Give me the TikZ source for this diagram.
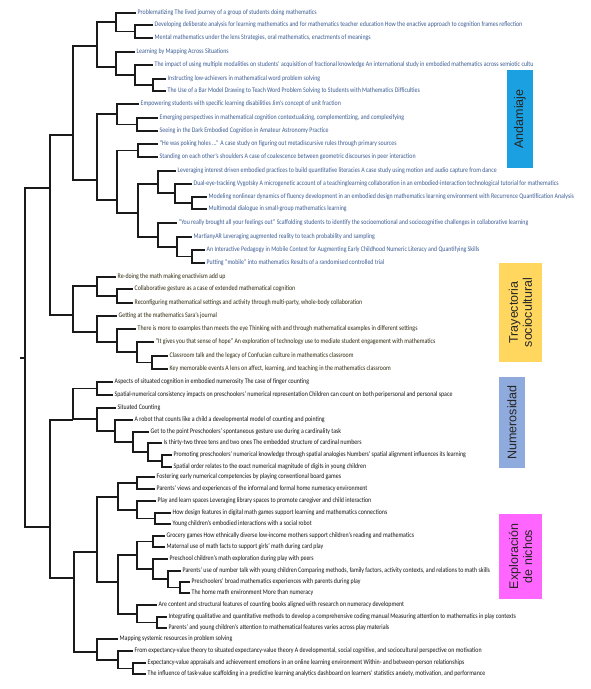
\documentclass[tikz,border=0pt]{standalone}
\usepackage{fontspec}
\setmainfont{Carlito}[FakeStretch=0.84]
\newfontfamily\boxfont{Liberation Sans}
\definecolor{andtext}{HTML}{3D5D94}
\definecolor{tratext}{HTML}{2F2A10}
\definecolor{blktext}{HTML}{151515}
\definecolor{linecol}{HTML}{1A1A1A}
\definecolor{andbox}{HTML}{1BA1E2}
\definecolor{trabox}{HTML}{FFD75E}
\definecolor{numbox}{HTML}{8FAADC}
\definecolor{expbox}{HTML}{FF66FF}
\tikzset{
  lfbase/.style={anchor=west, inner xsep=1.5pt, inner ysep=0pt, font=\fontsize{7}{8}\selectfont},
  lfA/.style={lfbase, text=andtext},
  lfT/.style={lfbase, text=tratext},
  lfN/.style={lfbase, text=blktext},
  dendro/.style={line width=1.1pt, draw=linecol},
  catbox/.style={draw=none, inner sep=0pt, align=center, text=black!85, font=\boxfont\fontsize{12.5}{14}\selectfont, rotate=90}
}
\begin{document}
\begin{tikzpicture}[x=1pt,y=-1pt]
\useasboundingbox (0,0) rectangle (590,689);
\fill[white] (0,0) rectangle (590,689);

% ---------- category boxes ----------
\fill[andbox] (507,70) rectangle (533,168);
\node[catbox] (cA) at (520,119) {Andamiaje};
\fill[trabox] (499,263) rectangle (542,362);
\node[catbox] (cT) at (520.5,312.5) {Trayectoria\\sociocultural};
\fill[numbox] (499,377) rectangle (525,468);
\node[catbox] (cN) at (512,422.5) {Numerosidad};
\fill[expbox] (499,514) rectangle (542,599);
\node[catbox] (cE) at (520.5,556.5) {Exploración\\de nichos};

% ---------- leaves: Andamiaje ----------
\node[lfA] (l1) at (136,13) {Problematizing The lived journey of a group of students doing mathematics};
\node[lfA] (l2) at (153,25) {Developing deliberate analysis for learning mathematics and for mathematics teacher education How the enactive approach to cognition frames reflection};
\node[lfA] (l3) at (153,38) {Mental mathematics under the lens Strategies, oral mathematics, enactments of meanings};
\node[lfA] (l4) at (135,52) {Learning by Mapping Across Situations};
\node[lfA] (l5) at (153,65) {The impact of using multiple modalities on students' acquisition of fractional knowledge An international study in embodied mathematics across semiotic cultu};
\node[lfA] (l6) at (166,79) {Instructing low-achievers in mathematical word problem solving};
\node[lfA] (l7) at (166,91) {The Use of a Bar Model Drawing to Teach Word Problem Solving to Students with Mathematics Difficulties};
\node[lfA] (l8) at (139,104) {Empowering students with specific learning disabilities Jim's concept of unit fraction};
\node[lfA] (l9) at (158,118) {Emerging perspectives in mathematical cognition contextualizing, complementizing, and complexifying};
\node[lfA] (l10) at (158,131) {Seeing in the Dark Embodied Cognition in Amateur Astronomy Practice};
\node[lfA] (l11) at (158,144) {“He was poking holes ...” A case study on figuring out metadiscursive rules through primary sources};
\node[lfA] (l12) at (158,157) {Standing on each other's shoulders A case of coalescence between geometric discourses in peer interaction};
\node[lfA] (l13) at (176,171) {Leveraging interest driven embodied practices to build quantitative literacies A case study using motion and audio capture from dance};
\node[lfA] (l14) at (192,184) {Dual-eye-tracking Vygotsky A microgenetic account of a teachinglearning collaboration in an embodied-interaction technological tutorial for mathematics};
\node[lfA] (l15) at (207,197) {Modeling nonlinear dynamics of fluency development in an embodied design mathematics learning environment with Recurrence Quantification Analysis};
\node[lfA] (l16) at (207,209) {Multimodal dialogue in small-group mathematics learning};
\node[lfA] (l17) at (177,223) {“You really brought all your feelings out” Scaffolding students to identify the socioemotional and sociocognitive challenges in collaborative learning};
\node[lfA] (l18) at (192,237) {MartianyAR Leveraging augmented reality to teach probability and sampling};
\node[lfA] (l19) at (205,250) {An Interactive Pedagogy in Mobile Context for Augmenting Early Childhood Numeric Literacy and Quantifying Skills};
\node[lfA] (l20) at (205,263) {Putting “mobile” into mathematics Results of a randomised controlled trial};

% ---------- leaves: Trayectoria ----------
\node[lfT] (l21) at (116,277) {Re-doing the math making enactivism add up};
\node[lfT] (l22) at (133,289) {Collaborative gesture as a case of extended mathematical cognition};
\node[lfT] (l23) at (133,303) {Reconfiguring mathematical settings and activity through multi-party, whole-body collaboration};
\node[lfT] (l24) at (117,316) {Getting at the mathematics Sara's journal};
\node[lfT] (l25) at (136,329) {There is more to examples than meets the eye Thinking with and through mathematical examples in different settings};
\node[lfT] (l26) at (154,342) {“It gives you that sense of hope” An exploration of technology use to mediate student engagement with mathematics};
\node[lfT] (l27) at (168,356) {Classroom talk and the legacy of Confucian culture in mathematics classroom};
\node[lfT] (l28) at (168,369) {Key memorable events A lens on affect, learning, and teaching in the mathematics classroom};

% ---------- leaves: Numerosidad ----------
\node[lfN] (l29) at (113,382) {Aspects of situated cognition in embodied numerosity The case of finger counting};
\node[lfN] (l30) at (113,395) {Spatial-numerical consistency impacts on preschoolers' numerical representation Children can count on both peripersonal and personal space};
\node[lfN] (l31) at (116,408) {Situated Counting};
\node[lfN] (l32) at (133,420) {A robot that counts like a child a developmental model of counting and pointing};
\node[lfN] (l33) at (149,432) {Get to the point Preschoolers' spontaneous gesture use during a cardinality task};
\node[lfN] (l34) at (162,443) {Is thirty-two three tens and two ones The embedded structure of cardinal numbers};
\node[lfN] (l35) at (172,455) {Promoting preschoolers' numerical knowledge through spatial analogies Numbers' spatial alignment influences its learning};
\node[lfN] (l36) at (172,467) {Spatial order relates to the exact numerical magnitude of digits in young children};

% ---------- leaves: Exploracion ----------
\node[lfN] (l37) at (155,477) {Fostering early numerical competencies by playing conventional board games};
\node[lfN] (l38) at (155,489) {Parents' views and experiences of the informal and formal home numeracy environment};
\node[lfN] (l39) at (156,501) {Play and learn spaces Leveraging library spaces to promote caregiver and child interaction};
\node[lfN] (l40) at (171,513) {How design features in digital math games support learning and mathematics connections};
\node[lfN] (l41) at (171,524) {Young children's embodied interactions with a social robot};
\node[lfN] (l42) at (165,536) {Grocery games How ethnically diverse low-income mothers support children's reading and mathematics};
\node[lfN] (l43) at (165,547) {Maternal use of math facts to support girls' math during card play};
\node[lfN] (l44) at (168,559) {Preschool children's math exploration during play with peers};
\node[lfN] (l45) at (181,571) {Parents' use of number talk with young children Comparing methods, family factors, activity contexts, and relations to math skills};
\node[lfN] (l46) at (190,582) {Preschoolers' broad mathematics experiences with parents during play};
\node[lfN] (l47) at (190,593) {The home math environment More than numeracy};
\node[lfN] (l48) at (157,605) {Are content and structural features of counting books aligned with research on numeracy development};
\node[lfN] (l49) at (167,617) {Integrating qualitative and quantitative methods to develop a comprehensive coding manual Measuring attention to mathematics in play contexts};
\node[lfN] (l50) at (167,628) {Parents' and young children's attention to mathematical features varies across play materials};
\node[lfN] (l51) at (118,639) {Mapping systemic resources in problem solving};
\node[lfN] (l52) at (133,651) {From expectancy-value theory to situated expectancy-value theory A developmental, social cognitive, and sociocultural perspective on motivation};
\node[lfN] (l53) at (146,663) {Expectancy-value appraisals and achievement emotions in an online learning environment Within- and between-person relationships};
\node[lfN] (l54) at (146,674) {The influence of task-value scaffolding in a predictive learning analytics dashboard on learners' statistics anxiety, motivation, and performance};

% ---------- internal nodes ----------
\coordinate (a23) at (135,31.5);
\coordinate (aA) at (116,22);
\coordinate (a67) at (153,85);
\coordinate (a567) at (135,75);
\coordinate (aB) at (116,67);
\coordinate (aAB) at (97,46);
\coordinate (a910) at (137,124.5);
\coordinate (aC1) at (117,114);
\coordinate (a1112) at (138,150.5);
\coordinate (a1516) at (192,203);
\coordinate (a1416) at (175,193);
\coordinate (aC3a) at (158,184);
\coordinate (a1920) at (192,256.5);
\coordinate (a1820) at (177,247);
\coordinate (aC3b) at (158,237);
\coordinate (aC3) at (138,213);
\coordinate (aC2) at (117,200);
\coordinate (aC) at (97,180);
\coordinate (aAll) at (73,135);

\coordinate (t2223) at (117,296);
\coordinate (tT1) at (97,286);
\coordinate (t2728) at (152,362.5);
\coordinate (t2628) at (137,352);
\coordinate (t2528) at (117,342);
\coordinate (tT2) at (97,332);
\coordinate (tAll) at (73,315);
\coordinate (upper) at (50,188);

\coordinate (n2930) at (97,388.5);
\coordinate (n3536) at (162,461);
\coordinate (n3436) at (148,452);
\coordinate (n3336) at (133,442);
\coordinate (n3236) at (115,431);
\coordinate (nN2) at (97,419);
\coordinate (nAll) at (73,420);

\coordinate (e3738) at (137,483);
\coordinate (e4041) at (155,518.5);
\coordinate (e3941) at (137,510);
\coordinate (eE1) at (118,497);
\coordinate (e4243) at (153,541.5);
\coordinate (e4647) at (180,587.5);
\coordinate (e4547) at (168,579);
\coordinate (e4447) at (153,569);
\coordinate (eE2a) at (137,555);
\coordinate (e4950) at (157,622.5);
\coordinate (eE2b) at (137,614);
\coordinate (eE2) at (118,582);
\coordinate (eE12) at (97,552);
\coordinate (e5354) at (133,668.5);
\coordinate (e5254) at (118,660);
\coordinate (eE3) at (97,652);
\coordinate (eAll) at (74,578);
\coordinate (lower) at (50,527);
\coordinate (root) at (25,358);
\coordinate (rootend) at (20,358);

% ---------- connectors ----------
\draw[dendro]
  (a23) |- (l2.west) (a23) |- (l3.west)
  (aA) |- (l1.west) (aA) |- (a23)
  (a67) |- (l6.west) (a67) |- (l7.west)
  (a567) |- (l5.west) (a567) |- (a67)
  (aB) |- (l4.west) (aB) |- (a567)
  (aAB) |- (aA) (aAB) |- (aB)
  (a910) |- (l9.west) (a910) |- (l10.west)
  (aC1) |- (l8.west) (aC1) |- (a910)
  (a1112) |- (l11.west) (a1112) |- (l12.west)
  (a1516) |- (l15.west) (a1516) |- (l16.west)
  (a1416) |- (l14.west) (a1416) |- (a1516)
  (aC3a) |- (l13.west) (aC3a) |- (a1416)
  (a1920) |- (l19.west) (a1920) |- (l20.west)
  (a1820) |- (l18.west) (a1820) |- (a1920)
  (aC3b) |- (l17.west) (aC3b) |- (a1820)
  (aC3) |- (aC3a) (aC3) |- (aC3b)
  (aC2) |- (a1112) (aC2) |- (aC3)
  (aC) |- (aC1) (aC) |- (aC2)
  (aAll) |- (aAB) (aAll) |- (aC);
\draw[dendro]
  (t2223) |- (l22.west) (t2223) |- (l23.west)
  (tT1) |- (l21.west) (tT1) |- (t2223)
  (t2728) |- (l27.west) (t2728) |- (l28.west)
  (t2628) |- (l26.west) (t2628) |- (t2728)
  (t2528) |- (l25.west) (t2528) |- (t2628)
  (tT2) |- (l24.west) (tT2) |- (t2528)
  (tAll) |- (tT1) (tAll) |- (tT2)
  (upper) |- (aAll) (upper) |- (tAll);
\draw[dendro]
  (n2930) |- (l29.west) (n2930) |- (l30.west)
  (n3536) |- (l35.west) (n3536) |- (l36.west)
  (n3436) |- (l34.west) (n3436) |- (n3536)
  (n3336) |- (l33.west) (n3336) |- (n3436)
  (n3236) |- (l32.west) (n3236) |- (n3336)
  (nN2) |- (l31.west) (nN2) |- (n3236)
  (nAll) |- (n2930) (nAll) |- (nN2);
\draw[dendro]
  (e3738) |- (l37.west) (e3738) |- (l38.west)
  (e4041) |- (l40.west) (e4041) |- (l41.west)
  (e3941) |- (l39.west) (e3941) |- (e4041)
  (eE1) |- (e3738) (eE1) |- (e3941)
  (e4243) |- (l42.west) (e4243) |- (l43.west)
  (e4647) |- (l46.west) (e4647) |- (l47.west)
  (e4547) |- (l45.west) (e4547) |- (e4647)
  (e4447) |- (l44.west) (e4447) |- (e4547)
  (eE2a) |- (e4243) (eE2a) |- (e4447)
  (e4950) |- (l49.west) (e4950) |- (l50.west)
  (eE2b) |- (l48.west) (eE2b) |- (e4950)
  (eE2) |- (eE2a) (eE2) |- (eE2b)
  (eE12) |- (eE1) (eE12) |- (eE2)
  (e5354) |- (l53.west) (e5354) |- (l54.west)
  (e5254) |- (l52.west) (e5254) |- (e5354)
  (eE3) |- (l51.west) (eE3) |- (e5254)
  (eAll) |- (eE12) (eAll) |- (eE3)
  (lower) |- (nAll) (lower) |- (eAll);
\draw[dendro] (root) |- (upper) (root) |- (lower);
\draw[line width=1.6pt, draw=linecol] (rootend) -- (root);
\end{tikzpicture}
\end{document}
